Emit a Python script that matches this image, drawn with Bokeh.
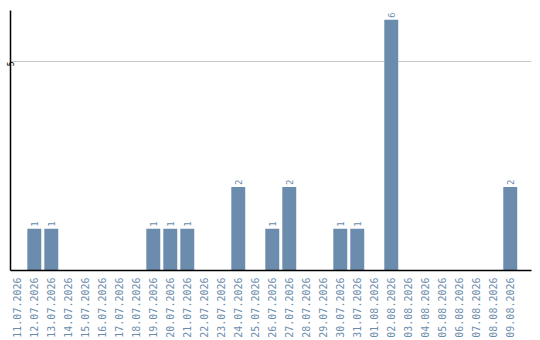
import math
from bokeh.plotting import figure
from bokeh.models import ColumnDataSource, FixedTicker, Range1d
from bokeh.core.properties import value
from bokeh.embed import file_html
from bokeh.resources import INLINE

# Daily counts over the period
dates = ["11.07.2026", "12.07.2026", "13.07.2026", "14.07.2026", "15.07.2026",
         "16.07.2026", "17.07.2026", "18.07.2026", "19.07.2026", "20.07.2026",
         "21.07.2026", "22.07.2026", "23.07.2026", "24.07.2026", "25.07.2026",
         "26.07.2026", "27.07.2026", "28.07.2026", "29.07.2026", "30.07.2026",
         "31.07.2026", "01.08.2026", "02.08.2026", "03.08.2026", "04.08.2026",
         "05.08.2026", "06.08.2026", "07.08.2026", "08.08.2026", "09.08.2026"]
counts = [0, 1, 1, 0, 0, 0, 0, 0, 1, 1,
          1, 0, 0, 2, 0, 1, 2, 0, 0, 1,
          1, 0, 6, 0, 0, 0, 0, 0, 0, 2]
y_ticks = [5]

BAR = "#6b8cac"
MONO = "DejaVu Sans Mono"

idx = list(range(len(dates)))
nz = [i for i in idx if counts[i] > 0]
bars = ColumnDataSource(dict(x=[i for i in nz], top=[counts[i] for i in nz],
                             lbl=[str(counts[i]) for i in nz]))

p = figure(width=540, height=340, output_backend="svg", toolbar_location=None,
           x_range=Range1d(-0.4, 30.25), y_range=Range1d(0, 6.22),
           min_border_left=0, min_border_right=9, min_border_top=10,
           min_border_bottom=0)
p.outline_line_color = None
p.background_fill_color = "white"
p.border_fill_color = "white"

p.vbar(x="x", top="top", bottom=0, width=0.82, source=bars,
       fill_color=BAR, line_color=None)
# value labels above the bars, reading bottom to top
p.text(x="x", y="top", text="lbl", source=bars, angle=math.pi / 2,
       y_offset=-2, text_align="left", text_baseline="middle",
       text_color=BAR, text_font=value(MONO), text_font_size="9px")

# x axis: one label per day, vertical
p.xaxis.ticker = FixedTicker(ticks=idx)
p.xaxis.major_label_overrides = {i: d for i, d in zip(idx, dates)}
p.xaxis.major_label_orientation = math.pi / 2
p.xaxis.major_label_text_font = MONO
p.xaxis.major_label_text_font_size = "10px"
p.xaxis.major_label_text_color = BAR
p.xaxis.major_label_standoff = 7
p.xaxis.major_tick_out = 0
p.xaxis.major_tick_in = 0
p.xaxis.minor_tick_out = 0
p.xaxis.minor_tick_in = 0
p.xaxis.major_tick_line_color = None
p.xaxis.minor_tick_line_color = None
p.xaxis.axis_line_color = "black"
p.xaxis.axis_line_width = 1.5

# y axis: single tick at 5
p.yaxis.ticker = FixedTicker(ticks=y_ticks)
p.yaxis.major_label_orientation = math.pi / 2
p.yaxis.major_label_text_font = MONO
p.yaxis.major_label_text_font_size = "8px"
p.yaxis.major_label_text_color = "black"
p.yaxis.major_label_standoff = 0
p.yaxis.major_tick_out = 0
p.yaxis.major_tick_in = 0
p.yaxis.minor_tick_out = 0
p.yaxis.minor_tick_in = 0
p.yaxis.major_tick_line_color = None
p.yaxis.minor_tick_line_color = None
p.yaxis.axis_line_color = "black"
p.yaxis.axis_line_width = 1.5

p.xgrid.grid_line_color = None
p.ygrid.ticker = FixedTicker(ticks=y_ticks)
p.ygrid.grid_line_color = "#c8c8c8"

open("out.html", "w").write(file_html(p, INLINE))
